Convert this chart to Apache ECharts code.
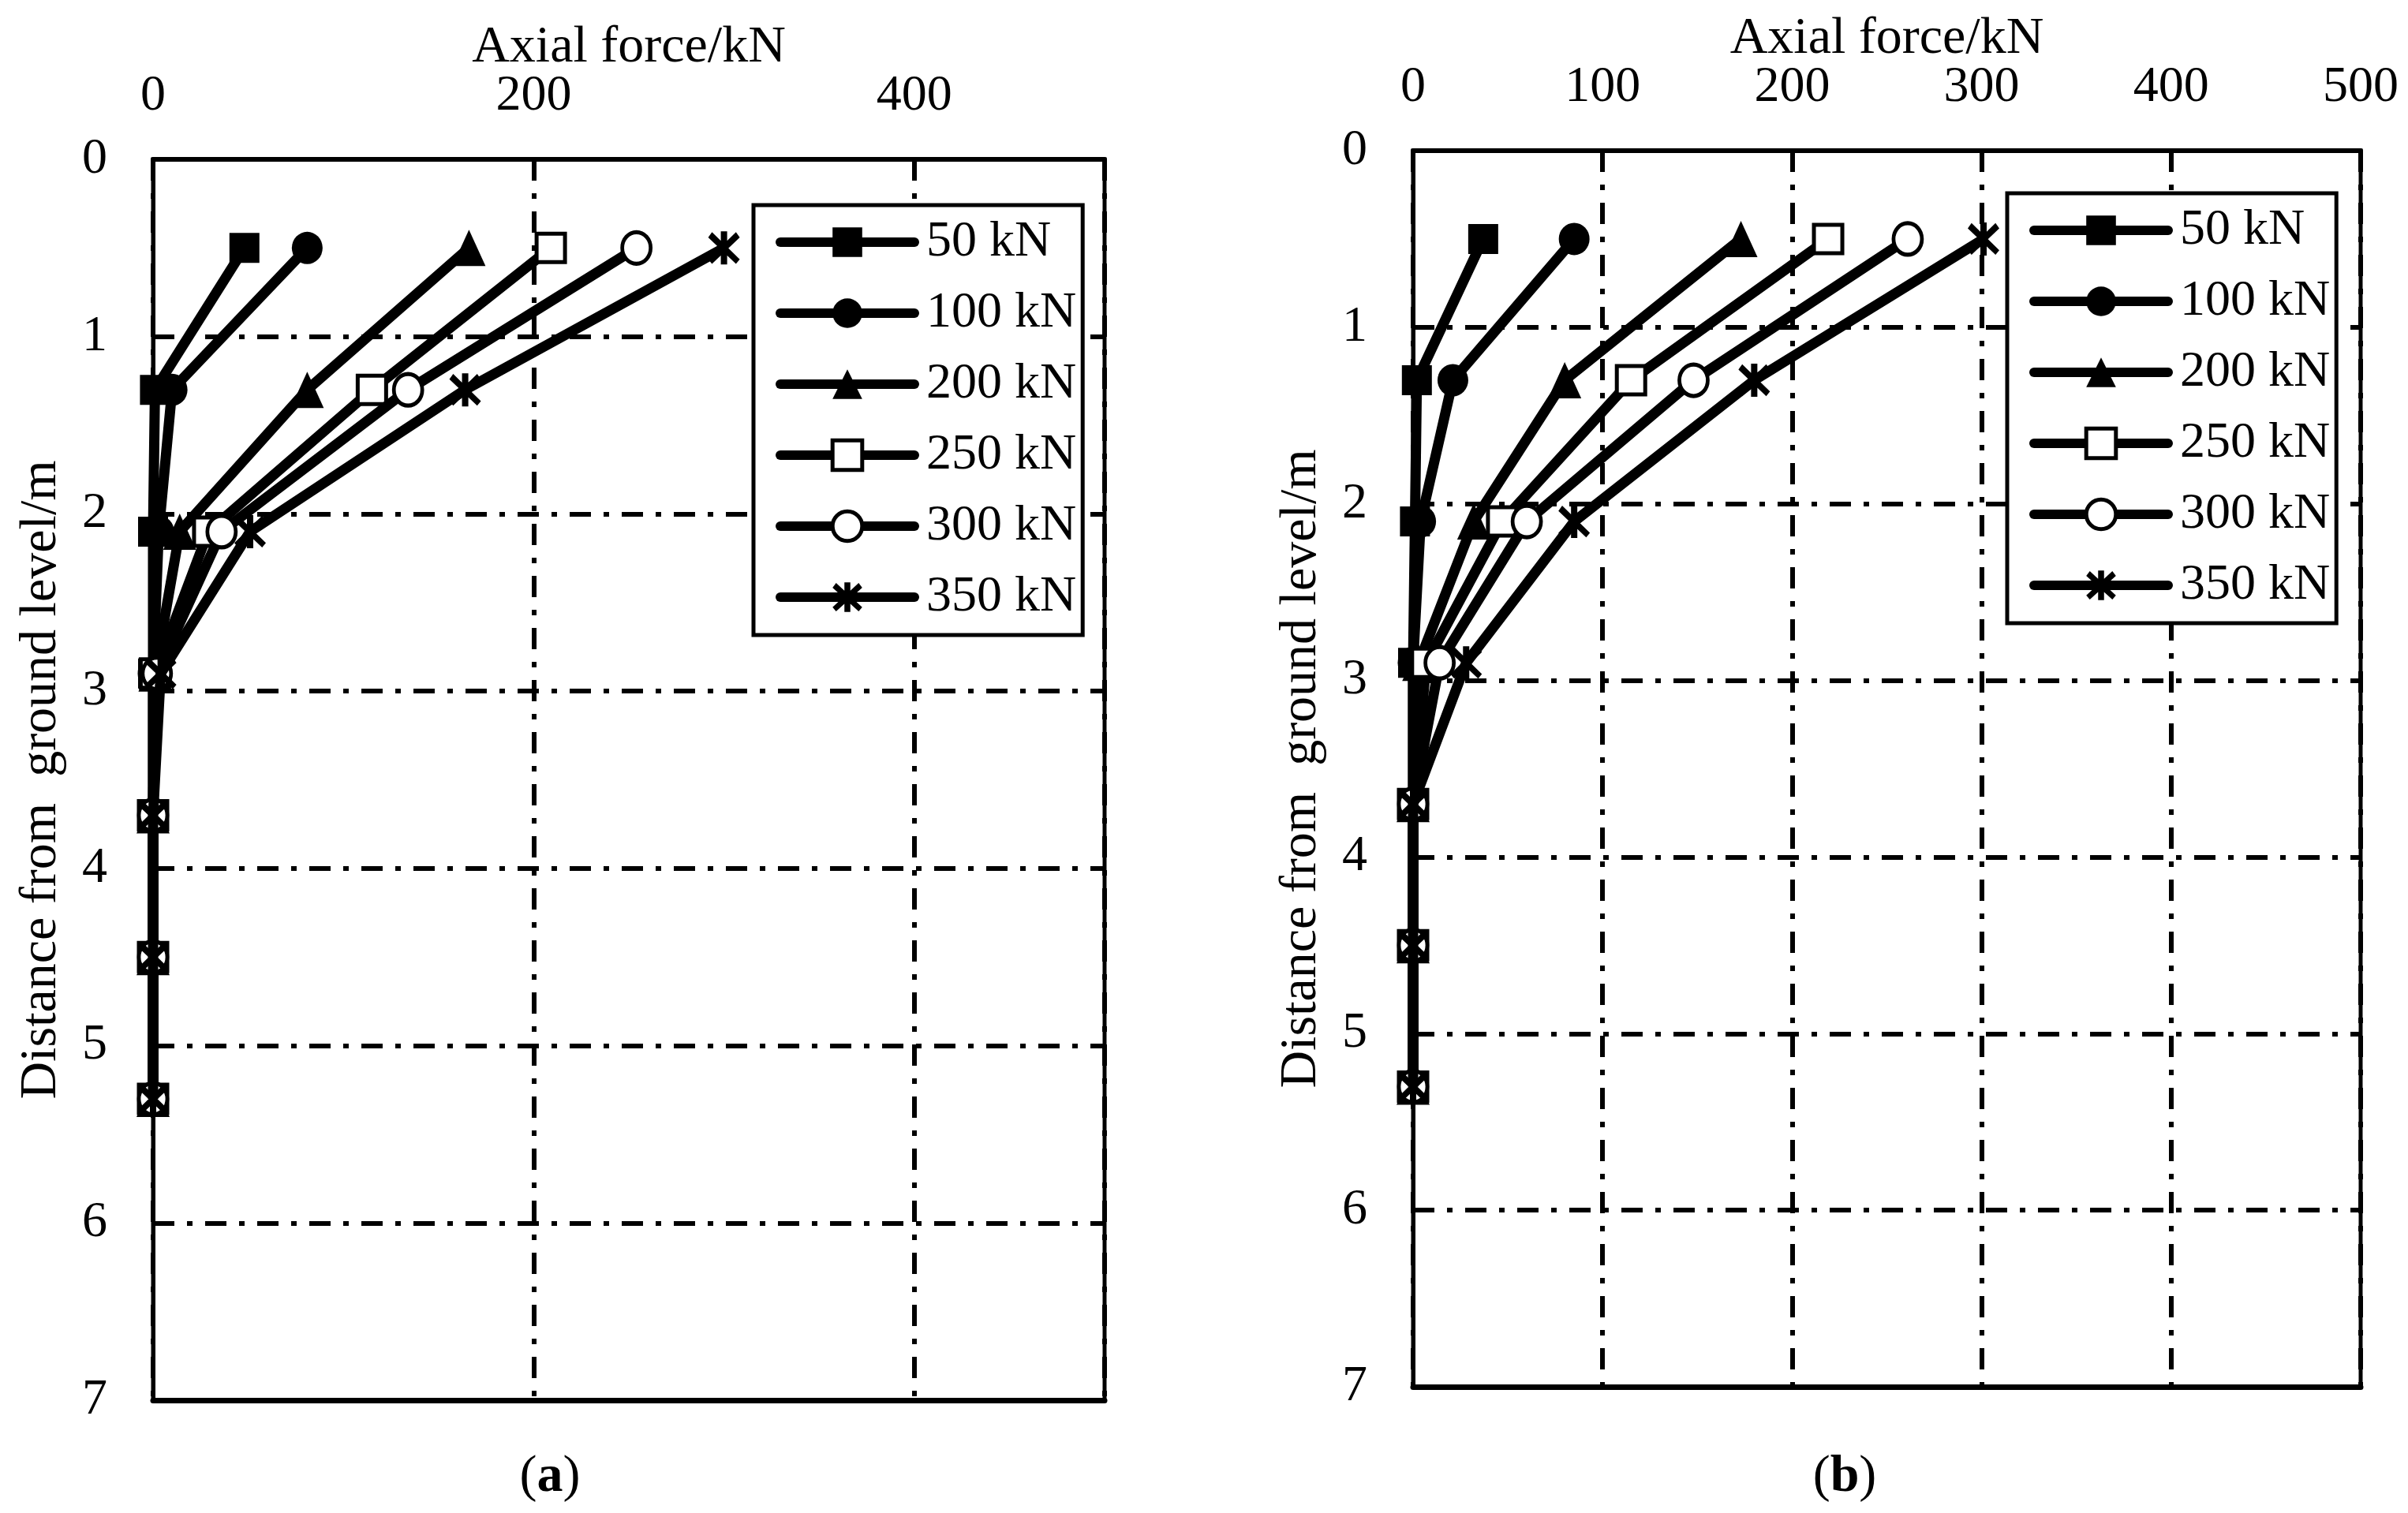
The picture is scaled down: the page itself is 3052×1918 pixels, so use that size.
<!DOCTYPE html>
<html>
<head>
<meta charset="utf-8">
<script src="https://cdn.jsdelivr.net/npm/echarts@6/dist/echarts.min.js"></script>
<style>
html,body{margin:0;padding:0;background:#fff;}
#chart{width:3052px;height:1918px;}
</style>
</head>
<body>
<div id="chart"></div>
<script>
// ---- data ----
const depths = [0.5, 1.3, 2.1, 2.9, 3.7, 4.5, 5.3];
const seriesNames = ['50 kN', '100 kN', '200 kN', '250 kN', '300 kN', '350 kN'];

// (a) axial force (kN) at each depth
const a50  = [48, 1, 0, 0, 0, 0, 0];
const a100 = [81, 10, 3, 0, 0, 0, 0];
const a200 = [166, 81, 14, 1, 0, 0, 0];
const a250 = [209, 115, 29, 1, 0, 0, 0];
const a300 = [254, 134, 36, 2, 0, 0, 0];
const a350 = [300, 164, 51, 4, 0, 0, 0];

// (b) axial force (kN) at each depth
const b50  = [37, 2, 1, 0, 0, 0, 0];
const b100 = [85, 21, 4, 0, 0, 0, 0];
const b200 = [173, 80, 32, 3, 0, 0, 0];
const b250 = [219, 115, 47, 7, 0, 0, 0];
const b300 = [261, 148, 60, 14, 0, 0, 0];
const b350 = [301, 180, 85, 28, 0, 0, 0];

const xTicksA = [0, 200, 400];
const xTicksB = [0, 100, 200, 300, 400, 500];
const yTicks = [0, 1, 2, 3, 4, 5, 6, 7];

const xTitle = 'Axial force/kN';
const yTitle = 'Distance from  ground level/m';
const captions = ['a', 'b'];

// ---- styles ----
const FONT = '"Liberation Serif", "Times New Roman", serif';
const asterisk = 'path://M0,18L88,98L100,84L12,2ZM88,2L0,84L12,98L100,18ZM40,0L40,100L60,100L60,0Z';
const markerStyles = [
  {symbol: 'rect', symbolSize: [38, 38], itemStyle: {color: '#000'}},
  {symbol: 'circle', symbolSize: [39, 41], itemStyle: {color: '#000'}},
  {symbol: 'triangle', symbolSize: [42, 46], itemStyle: {color: '#000'}},
  {symbol: 'rect', symbolSize: [36, 36], itemStyle: {color: '#fff', borderColor: '#000', borderWidth: 5}},
  {symbol: 'circle', symbolSize: [36, 40], itemStyle: {color: '#fff', borderColor: '#000', borderWidth: 5}},
  {symbol: asterisk, symbolSize: [40, 42], itemStyle: {color: '#000'}}
];

const gridA = {left: 194, top: 202, width: 1206, height: 1573};
const gridB = {left: 1791, top: 191, width: 1201, height: 1567};

const dashDot = [27, 16, 7, 16];

function topAxis(gridIndex, ticks, max, interval, showMax) {
  return {
    type: 'value', gridIndex: gridIndex, position: 'top',
    min: 0, max: max, interval: interval,
    name: xTitle, nameLocation: 'middle', nameGap: 108, nameMoveOverlap: false,
    nameTextStyle: {fontFamily: FONT, fontSize: 66, color: '#000'},
    axisLine: {show: true, lineStyle: {color: '#000', width: 6}},
    axisTick: {show: false},
    axisLabel: {
      show: true, margin: 48, fontFamily: FONT, fontSize: 64, color: '#000',
      showMaxLabel: showMax,
      formatter: function (v) { return ticks.indexOf(v) >= 0 ? String(v) : ''; }
    },
    splitLine: {show: true, lineStyle: {color: '#000', width: 6, type: dashDot}}
  };
}
function bottomAxis(gridIndex, max) {
  return {
    type: 'value', gridIndex: gridIndex, position: 'bottom', min: 0, max: max,
    axisLine: {show: true, lineStyle: {color: '#000', width: 7}},
    axisTick: {show: false}, axisLabel: {show: false}, splitLine: {show: false}
  };
}
function leftAxis(gridIndex) {
  return {
    type: 'value', gridIndex: gridIndex, inverse: true,
    min: 0, max: 7, interval: 1,
    name: yTitle, nameLocation: 'middle', nameGap: 108, nameRotate: 90, nameMoveOverlap: false,
    nameTextStyle: {fontFamily: FONT, fontSize: 66, color: '#000'},
    axisLine: {show: true, lineStyle: {color: '#000', width: 5}},
    axisTick: {show: false},
    axisLabel: {
      margin: 58, fontFamily: FONT, fontSize: 64, color: '#000',
      formatter: function (v) { return yTicks.indexOf(v) >= 0 ? String(v) : ''; }
    },
    splitLine: {show: true, lineStyle: {color: '#000', width: 6, type: dashDot}}
  };
}

function buildSeries(chartIdx, arrays) {
  return arrays.map(function (arr, k) {
    const m = markerStyles[k];
    return {
      type: 'line', name: seriesNames[k],
      xAxisIndex: chartIdx * 2, yAxisIndex: chartIdx,
      data: depths.map(function (d, i) { return [arr[i], d]; }),
      symbol: m.symbol, symbolSize: m.symbolSize,
      itemStyle: m.itemStyle,
      lineStyle: {color: '#000', width: 13, join: 'round'},
      emphasis: {disabled: true},
      animation: false,
      z: 3 + k
    };
  });
}

function legendCfg(left, top) {
  return {
    orient: 'vertical', left: left, top: top,
    padding: [11, 8, 12, 28],
    itemWidth: 170, itemHeight: 47, itemGap: 18,
    borderColor: '#000', borderWidth: 5, backgroundColor: '#fff',
    textStyle: {fontFamily: FONT, fontSize: 64, color: '#000', lineHeight: 72, padding: [0, 0, 0, 10]},
    lineStyle: {width: 12, cap: 'round'},
    selectedMode: false,
    data: seriesNames.map(function (n, k) {
      const o = {name: n};
      if (k === 3 || k === 4) o.itemStyle = {borderWidth: 5, borderColor: '#000', color: '#fff'};
      return o;
    })
  };
}

function captionGraphic(letter, cx) {
  return {
    type: 'text', x: cx, y: 1873,
    style: {
      text: '{p|(}{b|' + letter + '}{p|)}', align: 'center', verticalAlign: 'middle',
      rich: {
        p: {fontFamily: FONT, fontSize: 66, fill: '#000'},
        b: {fontFamily: FONT, fontSize: 66, fontWeight: 'bold', fill: '#000'}
      }
    }
  };
}

const option = {
  backgroundColor: '#fff',
  animation: false,
  textStyle: {fontFamily: FONT},
  grid: [
    Object.assign({show: true, borderColor: '#000', borderWidth: 5, containLabel: false}, gridA),
    Object.assign({show: true, borderColor: '#000', borderWidth: 5, containLabel: false}, gridB)
  ],
  xAxis: [
    topAxis(0, xTicksA, 500, 200, false),
    bottomAxis(0, 500),
    topAxis(1, xTicksB, 500, 100, true),
    bottomAxis(1, 500)
  ],
  yAxis: [leftAxis(0), leftAxis(1)],
  legend: [legendCfg(955, 260), legendCfg(2544, 245)],
  series: buildSeries(0, [a50, a100, a200, a250, a300, a350])
    .concat(buildSeries(1, [b50, b100, b200, b250, b300, b350])),
  graphic: [captionGraphic(captions[0], 697), captionGraphic(captions[1], 2338)]
};

const chart = echarts.init(document.getElementById('chart'), null, {renderer: 'canvas'});
chart.setOption(option);
</script>
</body>
</html>
